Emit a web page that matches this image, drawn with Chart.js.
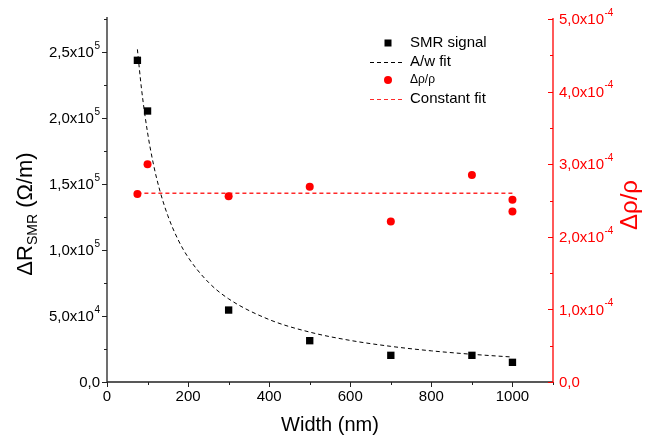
<!DOCTYPE html>
<html><head><meta charset="utf-8">
<script src="https://cdn.jsdelivr.net/npm/chart.js@4"></script>
<style>html,body{margin:0;padding:0;background:#fff}#wrap{width:647px;height:439px;position:relative}</style>
</head><body><div id="wrap"><canvas id="c"></canvas></div>
<script>
// ---- data ----
const widths = [75, 100, 300, 500, 700, 900, 1000];
const smrSignal = [243700, 205300, 54500, 31300, 20200, 20200, 14900];
const fitWidths = [75, 85, 100, 115, 130, 150, 175, 200, 250, 300, 400, 500, 600, 700, 800, 900, 1000];
const fitValues = [252000, 222400, 189000, 164300, 145400, 126000, 108000, 94500, 75600, 63000, 47300, 37800, 31500, 27000, 23600, 21000, 18900];
const rhoWidths = [75, 100, 300, 500, 700, 900, 1000, 1000];
const rhoValues = [2.59e-4, 3.00e-4, 2.56e-4, 2.69e-4, 2.21e-4, 2.85e-4, 2.51e-4, 2.35e-4];
const constWidths = [75, 1000];
const constValues = [2.60e-4, 2.60e-4];
const xTicks = [0, 200, 400, 600, 800, 1000];
const xMinorTicks = [100, 300, 500, 700, 900, 1100];
const leftTicks = [0, 50000, 100000, 150000, 200000, 250000];
const leftMinorTicks = [25000, 75000, 125000, 175000, 225000, 275000];
const leftTickMant = ["0,0", "5,0x10", "1,0x10", "1,5x10", "2,0x10", "2,5x10"];
const leftTickExp = ["", "4", "5", "5", "5", "5"];
const rightTicks = [0, 1e-4, 2e-4, 3e-4, 4e-4, 5e-4];
const rightMinorTicks = [0.5e-4, 1.5e-4, 2.5e-4, 3.5e-4, 4.5e-4];
const rightTickMant = ["0,0", "1,0x10", "2,0x10", "3,0x10", "4,0x10", "5,0x10"];
const rightTickExp = ["", "-4", "-4", "-4", "-4", "-4"];
const legendLabels = ["SMR signal", "A/w fit", "\u0394\u03c1/\u03c1", "Constant fit"];

const FONT = '"Liberation Sans", Arial, sans-serif';
const RED = '#ff0000';
const RED_LINE = '#ff2a2a';

function pts(xs, ys) { return xs.map((x, i) => ({ x: x, y: ys[i] })); }

function sci(ctx, mant, exp, x, y, align, color) {
  ctx.fillStyle = color;
  ctx.textBaseline = 'middle';
  ctx.textAlign = 'left';
  ctx.font = '15px ' + FONT;
  const w1 = ctx.measureText(mant).width;
  ctx.font = '10px ' + FONT;
  const w2 = exp ? ctx.measureText(exp).width + 0.5 : 0;
  const x0 = align === 'right' ? x - w1 - w2 : x;
  ctx.font = '15px ' + FONT;
  ctx.fillText(mant, x0, y);
  if (exp) { ctx.font = '10px ' + FONT; ctx.fillText(exp, x0 + w1 + 0.5, y - 7); }
}

const axesPlugin = {
  id: 'axesPlugin',
  afterDraw(chart) {
    const { ctx, chartArea: a, scales } = chart;
    const xs = scales.x, yl = scales.y, yr = scales.y1;
    ctx.save();
    ctx.lineWidth = 1.3;
    ctx.strokeStyle = '#222';
    ctx.beginPath();
    ctx.moveTo(a.left, a.top - 2); ctx.lineTo(a.left, a.bottom);
    ctx.lineTo(a.right, a.bottom);
    ctx.stroke();
    ctx.lineWidth = 1;
    ctx.beginPath();
    xTicks.forEach(v => { const p = Math.round(xs.getPixelForValue(v)) + 0.5; ctx.moveTo(p, a.bottom); ctx.lineTo(p, a.bottom + 5); });
    xMinorTicks.forEach(v => { const p = Math.round(xs.getPixelForValue(v)) + 0.5; ctx.moveTo(p, a.bottom); ctx.lineTo(p, a.bottom + 3); });
    leftTicks.forEach(v => { const p = Math.round(yl.getPixelForValue(v)) + 0.5; ctx.moveTo(a.left, p); ctx.lineTo(a.left - 5, p); });
    leftMinorTicks.forEach(v => { const p = Math.round(yl.getPixelForValue(v)) + 0.5; ctx.moveTo(a.left, p); ctx.lineTo(a.left - 3, p); });
    ctx.stroke();
    ctx.strokeStyle = RED;
    ctx.lineWidth = 1.3;
    ctx.beginPath();
    ctx.moveTo(a.right, a.top - 1); ctx.lineTo(a.right, a.bottom + 1);
    ctx.stroke();
    ctx.lineWidth = 1;
    ctx.beginPath();
    rightTicks.forEach(v => { const p = Math.round(yr.getPixelForValue(v)) + 0.5; ctx.moveTo(a.right, p); ctx.lineTo(a.right - 5, p); });
    rightMinorTicks.forEach(v => { const p = Math.round(yr.getPixelForValue(v)) + 0.5; ctx.moveTo(a.right, p); ctx.lineTo(a.right - 3, p); });
    ctx.stroke();
    ctx.fillStyle = '#000';
    ctx.font = '15px ' + FONT;
    ctx.textAlign = 'center'; ctx.textBaseline = 'middle';
    xTicks.forEach(v => ctx.fillText(String(v), xs.getPixelForValue(v), a.bottom + 15));
    leftTicks.forEach((v, i) => sci(ctx, leftTickMant[i], leftTickExp[i], a.left - 7, yl.getPixelForValue(v) + 1, 'right', '#000'));
    rightTicks.forEach((v, i) => sci(ctx, rightTickMant[i], rightTickExp[i], a.right + 6, yr.getPixelForValue(v) + 1, 'left', RED));
    ctx.fillStyle = '#000';
    ctx.font = '20px ' + FONT;
    ctx.textAlign = 'center'; ctx.textBaseline = 'middle';
    ctx.fillText('Width (nm)', (a.left + a.right) / 2, 425);
    ctx.save();
    ctx.translate(26, 214);
    ctx.rotate(-Math.PI / 2);
    const p1 = '\u0394R', p2 = 'SMR', p3 = ' (\u03a9/m)';
    ctx.font = '22px ' + FONT; const w1 = ctx.measureText(p1).width; const w3 = ctx.measureText(p3).width;
    ctx.font = '14px ' + FONT; const w2 = ctx.measureText(p2).width;
    let x0 = -(w1 + w2 + w3) / 2;
    ctx.textAlign = 'left'; ctx.textBaseline = 'middle';
    ctx.font = '22px ' + FONT; ctx.fillText(p1, x0, 0);
    ctx.font = '14px ' + FONT; ctx.fillText(p2, x0 + w1, 7);
    ctx.font = '22px ' + FONT; ctx.fillText(p3, x0 + w1 + w2, 0);
    ctx.restore();
    ctx.save();
    ctx.translate(630, 205);
    ctx.rotate(-Math.PI / 2);
    ctx.fillStyle = RED;
    ctx.font = '24px ' + FONT;
    ctx.textAlign = 'center'; ctx.textBaseline = 'middle';
    ctx.fillText('\u0394\u03c1/\u03c1', 0, 0);
    ctx.restore();
    const lx = 410, ly = [43, 62, 80, 99];
    ctx.textAlign = 'left'; ctx.textBaseline = 'middle';
    ctx.fillStyle = '#000';
    ctx.fillRect(384.5, ly[0] - 3.5, 7, 7);
    ctx.setLineDash([4, 3]); ctx.lineWidth = 1;
    ctx.strokeStyle = '#000';
    ctx.beginPath(); ctx.moveTo(370, ly[1] + 0.5); ctx.lineTo(404, ly[1] + 0.5); ctx.stroke();
    ctx.strokeStyle = RED_LINE;
    ctx.beginPath(); ctx.moveTo(370, ly[3] + 0.5); ctx.lineTo(404, ly[3] + 0.5); ctx.stroke();
    ctx.setLineDash([]);
    ctx.fillStyle = RED;
    ctx.beginPath(); ctx.arc(388, ly[2], 4, 0, Math.PI * 2); ctx.fill();
    ctx.fillStyle = '#000';
    ctx.font = '15px ' + FONT; ctx.fillText(legendLabels[0], lx, ly[0]);
    ctx.fillText(legendLabels[1], lx, ly[1]);
    ctx.font = '12px ' + FONT; ctx.fillText(legendLabels[2], lx, ly[2]);
    ctx.font = '15px ' + FONT; ctx.fillText(legendLabels[3], lx, ly[3]);
    ctx.restore();
  }
};

new Chart(document.getElementById('c'), {
  type: 'scatter',
  data: {
    datasets: [
      { label: legendLabels[1], type: 'line', data: pts(fitWidths, fitValues), yAxisID: 'y', borderColor: '#000', borderWidth: 1, borderDash: [4, 3], pointRadius: 0, fill: false, cubicInterpolationMode: 'monotone', showLine: true, order: 3 },
      { label: legendLabels[3], type: 'line', data: pts(constWidths, constValues), yAxisID: 'y1', borderColor: RED_LINE, borderWidth: 1.3, borderDash: [4, 3], pointRadius: 0, fill: false, showLine: true, order: 4 },
      { label: legendLabels[0], data: pts(widths, smrSignal), yAxisID: 'y', pointStyle: 'rect', pointRadius: 5.2, pointHoverRadius: 5.2, backgroundColor: '#000', borderColor: '#000', borderWidth: 0, order: 1 },
      { label: legendLabels[2], data: pts(rhoWidths, rhoValues), yAxisID: 'y1', pointStyle: 'circle', pointRadius: 4, pointHoverRadius: 4, backgroundColor: RED, borderColor: RED, borderWidth: 0, order: 2 }
    ]
  },
  options: {
    responsive: true, maintainAspectRatio: false, animation: false,
    layout: { padding: { left: 107, right: 94, top: 19, bottom: 57 } },
    plugins: { legend: { display: false }, tooltip: { enabled: false } },
    scales: {
      x: { type: 'linear', min: 0, max: 1100, display: false },
      y: { type: 'linear', min: 0, max: 275000, display: false },
      y1: { type: 'linear', position: 'right', min: 0, max: 5e-4, display: false }
    }
  },
  plugins: [axesPlugin]
});
</script>
</body></html>
